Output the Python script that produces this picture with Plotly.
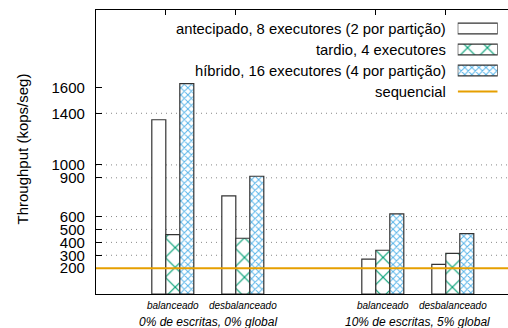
import plotly.graph_objects as go

# Throughput por configuração (kops/seg)
cenarios = ["0% de escritas, 0% global", "10% de escritas, 5% global"]
cargas = ["balanceado", "desbalanceado", "balanceado", "desbalanceado"]
antecipado = [1350, 760, 270, 230]
tardio = [460, 432, 339, 315]
hibrido = [1630, 912, 620, 467]
sequencial = 200

nomes = [
    "antecipado, 8 executores (2 por partição)",
    "tardio, 4 executores",
    "híbrido, 16 executores (4 por partição)",
    "sequencial",
]
y_ticks = [200, 300, 400, 500, 600, 900, 1000, 1400, 1600]
grade = [300, 400, 500, 600, 900, 1000, 1400]

# posições: cada cenário ocupa duas cargas, separadas por uma posição vazia
xpos = [i + 1 + i // 2 for i in range(len(cargas))]
centros = [(xpos[2 * g] + xpos[2 * g + 1]) / 2 for g in range(len(cenarios))]

W, H = 508, 328
ML, MR, MT, MB = 96, 0, 10, 34
PW, PH = W - ML - MR, H - MT - MB
UNIT = 70.0
x0 = 1 - (172.8 - ML) / UNIT
x1 = x0 + PW / UNIT

VERDE = "#009e73"
AZUL = "#56b4e9"
LARANJA = "#e69f00"
BORDA = "#333333"
FONTE = "Liberation Sans, Arial, sans-serif"

estilos = [
    dict(marker_color="white"),
    dict(marker_color="white",
         marker_pattern=dict(shape="x", size=14, solidity=0.16,
                             fgcolor=VERDE, bgcolor="white", fgopacity=1)),
    dict(marker_color="white",
         marker_pattern=dict(shape="x", size=5, solidity=0.35,
                             fgcolor=AZUL, bgcolor="white", fgopacity=1)),
]

fig = go.Figure()
for serie, est in zip([antecipado, tardio, hibrido], estilos):
    fig.add_trace(go.Bar(x=xpos, y=serie, marker_line=dict(color=BORDA, width=1.2),
                         showlegend=False, hoverinfo="skip", **est))

# eixo superior (somente marcas)
fig.add_trace(go.Scatter(x=[x0], y=[0], xaxis="x2", mode="markers",
                         marker_opacity=0, showlegend=False, hoverinfo="skip"))

# legenda no estilo gnuplot: texto à direita, amostra após o texto
linhas_leg = [3, 2, 1, 0]
for k, est in enumerate(estilos):
    fig.add_trace(go.Bar(x=[1], y=[linhas_leg[k]], base=0, orientation="h", width=0.52,
                         xaxis="x3", yaxis="y3",
                         marker_line=dict(color=BORDA, width=1.2),
                         showlegend=False, hoverinfo="skip", **est))
fig.add_trace(go.Scatter(x=[0, 1], y=[linhas_leg[3]] * 2, xaxis="x3", yaxis="y3",
                         mode="lines", line=dict(color=LARANJA, width=2),
                         showlegend=False, hoverinfo="skip"))

def py(v):
    return (MT + PH - v) / PH

def px(v):
    return (v - ML) / PW

leg_lin_px = [29, 50, 71, 92]
anots = []
for nome, ypx in zip(nomes, leg_lin_px):
    anots.append(dict(text=nome, xref="paper", yref="paper", x=px(448), y=py(ypx),
                      xanchor="right", yanchor="middle", showarrow=False,
                      font=dict(family=FONTE, size=14.8, color="black")))
for c, nome in zip(centros, cenarios):
    anots.append(dict(text=nome, xref="x", yref="paper", x=c, y=py(322),
                      xanchor="center", yanchor="middle", showarrow=False,
                      font=dict(family=FONTE, size=12, color="black", style="italic")))
anots.append(dict(text="Throughput (kops/seg)", xref="paper", yref="paper",
                  x=px(21.5), y=py(149), textangle=-90, xanchor="center",
                  yanchor="middle", showarrow=False,
                  font=dict(family=FONTE, size=15, color="black")))

formas = []
for g in grade:
    formas.append(dict(type="line", xref="paper", yref="y", x0=0, x1=1, y0=g, y1=g,
                       line=dict(color="#888888", width=1, dash="1px,4px"), layer="below"))
formas.append(dict(type="line", xref="paper", yref="y", x0=0, x1=1,
                   y0=sequencial, y1=sequencial,
                   line=dict(color=LARANJA, width=2), layer="above"))

fig.update_layout(
    width=W, height=H,
    margin=dict(l=ML, r=MR, t=MT, b=MB, autoexpand=False),
    paper_bgcolor="white", plot_bgcolor="white",
    barmode="group", bargap=0.4, bargroupgap=0,
    font=dict(family=FONTE, color="black"),
    xaxis=dict(range=[x0, x1], tickvals=xpos, ticktext=cargas, ticks="",
               showline=True, linecolor="black", linewidth=1.2, showgrid=False,
               zeroline=False, tickfont=dict(size=10, style="italic"),
               ticklabelstandoff=2),
    xaxis2=dict(range=[x0, x1], overlaying="x", side="top", anchor="y",
                tickvals=[p - 0.11 for p in xpos], ticks="inside", ticklen=5,
                tickcolor="black", showticklabels=False, showline=True,
                linecolor="black", linewidth=1.2, showgrid=False, zeroline=False),
    yaxis=dict(range=[0, 2200], tickvals=y_ticks, ticks="inside", ticklen=6,
               tickcolor="black", showline=True, linecolor="black", linewidth=1.2,
               showgrid=False, zeroline=False, tickfont=dict(size=15),
               ticklabelstandoff=7),
    xaxis3=dict(domain=[px(457.7), px(497.7)], range=[0, 1], anchor="y3",
                visible=False),
    yaxis3=dict(domain=[py(102), py(18)], range=[-0.5, 3.5], anchor="x3",
                visible=False),
    annotations=anots,
    shapes=formas,
)

fig.write_html("out.html")
